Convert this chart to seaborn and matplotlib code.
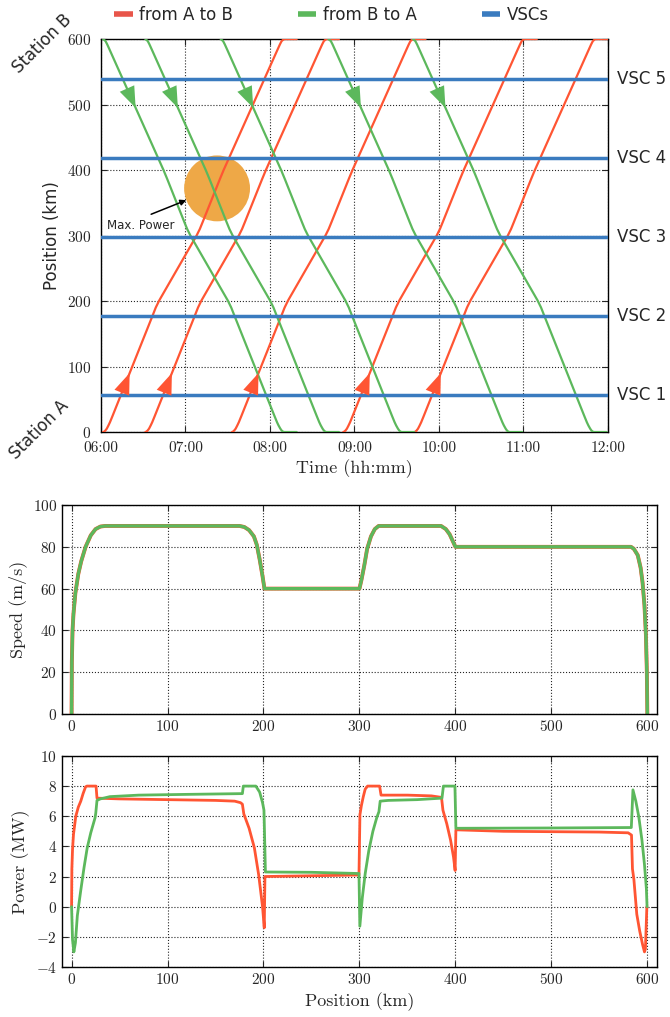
import numpy as np
import pandas as pd
import matplotlib
matplotlib.use("Agg")
import matplotlib.pyplot as plt
import matplotlib.transforms as mtransforms
from matplotlib.lines import Line2D
import seaborn as sns

RED = "#FF5533"
GREEN = "#5CB85C"
BLUE = "#3A7BBF"
ORANGE = "#EEA847"
SANS = "DejaVu Sans"

# trip profile: elapsed minutes at each position
trip_km_ab = [0, 0.5, 2, 5, 10, 15, 25, 178, 190, 201, 300, 310, 320, 386, 400, 583, 592, 597, 600]
trip_min_ab = [0, 0.7, 1.5, 2.6, 3.8, 4.9, 6.8, 35.2, 37.4, 39.9, 66.4, 68.7, 70.6, 82.9, 85.6, 123.7, 125.6, 126.8, 128.5]
trip_km_ba = [600, 597, 592, 583, 400, 386, 320, 310, 300, 201, 190, 178, 25, 15, 10, 5, 2, 0.5, 0]
trip_min_ba = [0, 1.7, 2.9, 4.8, 42.9, 45.6, 57.8, 59.7, 62.0, 88.5, 91.0, 93.2, 121.6, 123.5, 124.6, 125.9, 126.9, 127.8, 128.5]
dwell_min = 9

# departures, minutes after 06:00
dep_ab = [1.5, 31.5, 93, 172, 222.5]
dep_ba = [1.5, 31.5, 85, 161.5, 221.5]

vsc_km = [57, 177, 298, 419, 539]
vsc_names = ["VSC 1", "VSC 2", "VSC 3", "VSC 4", "VSC 5"]

max_power_hour = 7.374
max_power_km = 372

# speed profile (same for both directions)
speed_km = [0, 0.3, 1, 2, 4, 7, 10, 14.6, 20, 25, 30, 35, 175, 180, 185, 190, 193, 196, 199, 201,
            300, 302, 305, 308, 312, 316, 320, 385, 390, 394, 398, 400,
            583, 586, 590, 593, 595, 597, 598.5, 599.5, 600]
speed_ms = [0, 25, 40, 48, 58, 67, 73, 80, 85.5, 88.5, 89.7, 90, 90, 89.5, 88, 85, 81, 74, 66, 60,
            60, 64, 71, 79, 85, 88.5, 90, 90, 88.5, 86, 82, 80,
            80, 79, 76, 70, 63, 52, 38, 20, 0]

# power profiles
power_km_ab = [0, 0.3, 1, 2, 4.4, 7, 9.6, 12, 14.6, 16, 25.5, 26.5, 50, 100, 150, 170, 176, 178, 179.5,
               185, 190.5, 195, 199, 200.8, 201.5, 250, 299.5, 300.5, 302, 304, 306, 308.5, 321, 322.5,
               350, 375, 385.5, 387, 391, 395, 398, 399.7, 400.5, 450, 550, 580, 583.5, 584.5, 586,
               589, 592, 595, 597, 598, 599.5]
power_mw_ab = [0, 2.5, 3.8, 4.8, 6.0, 6.6, 7.0, 7.5, 7.95, 8.0, 8.0, 7.2, 7.15, 7.1, 7.05, 7.0, 6.9, 6.8, 6.15,
               5.2, 3.9, 2.1, 0.0, -1.4, 2.0, 2.05, 2.1, 6.1, 6.7, 7.3, 7.8, 8.0, 8.0, 7.4,
               7.4, 7.35, 7.25, 6.4, 5.5, 4.4, 3.3, 2.4, 5.1, 5.0, 4.95, 4.9, 4.75, 2.5, 1.8,
               -0.5, -1.6, -2.5, -3.0, -2.8, 0]
power_km_ba = [0, 1, 2.4, 4, 6, 9.4, 13, 16.3, 20, 24.5, 25.2, 26.5, 30, 40, 70, 120, 178, 179, 192,
               196, 199, 200.5, 202, 250, 299.5, 300.4, 303, 306, 309.7, 314, 318, 320.3, 321.6, 330,
               360, 386, 387.5, 399.5, 400.5, 500, 583.3, 585, 588, 591, 594.4, 597, 599, 599.7]
power_mw_ba = [0, -2.2, -3.0, -2.4, -0.6, 1.0, 2.6, 3.9, 4.9, 5.9, 6.2, 7.05, 7.15, 7.3, 7.4, 7.45, 7.5, 8.0, 8.0,
               7.6, 6.9, 6.4, 2.3, 2.28, 2.2, -1.3, 0.6, 2.2, 3.7, 5.0, 5.9, 6.3, 7.0, 7.05,
               7.1, 7.2, 8.0, 8.0, 5.2, 5.22, 5.25, 7.75, 7.0, 6.0, 4.4, 2.8, 1.2, 0]

sns.set_style("ticks")
plt.rcParams["font.family"] = "serif"
plt.rcParams["font.serif"] = ["cmr10", "DejaVu Serif"]
plt.rcParams["mathtext.fontset"] = "cm"
plt.rcParams["axes.unicode_minus"] = False
plt.rcParams["axes.formatter.use_mathtext"] = True
plt.rcParams["xtick.direction"] = "in"
plt.rcParams["ytick.direction"] = "in"
plt.rcParams["xtick.top"] = True
plt.rcParams["ytick.right"] = True
plt.rcParams["axes.edgecolor"] = "black"
plt.rcParams["axes.linewidth"] = 1.0


def build_trips(deps, km, mins):
    rows = []
    for i, d in enumerate(deps):
        t = [6 + (d + m) / 60 for m in mins] + [6 + (d + mins[-1] + dwell_min) / 60]
        k = list(km) + [km[-1]]
        rows.append(pd.DataFrame({"hour": t, "km": k, "trip": i}))
    return pd.concat(rows, ignore_index=True)


trips_ab = build_trips(dep_ab, trip_km_ab, trip_min_ab)
trips_ba = build_trips(dep_ba, trip_km_ba, trip_min_ba)

fig = plt.figure(figsize=(6.7, 10.17), dpi=100)
ax1 = fig.add_axes([0.1507, 0.5752, 0.7567, 0.3864])
ax2 = fig.add_axes([0.0925, 0.2979, 0.888, 0.2055])
ax3 = fig.add_axes([0.0925, 0.0492, 0.888, 0.2075])

for ax in (ax1, ax2, ax3):
    ax.grid(True, linestyle=":", color="0.15", linewidth=0.8)
    ax.set_axisbelow(True)
    ax.tick_params(labelsize=11, length=4, width=0.8)
ax1.tick_params(pad=7)

# --- time / position chart
ax1.scatter([max_power_hour], [max_power_km], s=2250, color=ORANGE, edgecolor="none", zorder=2)
sns.lineplot(data=trips_ab, x="hour", y="km", units="trip", estimator=None, sort=False,
             color=RED, lw=1.6, ax=ax1, zorder=3)
sns.lineplot(data=trips_ba, x="hour", y="km", units="trip", estimator=None, sort=False,
             color=GREEN, lw=1.6, ax=ax1, zorder=3)
for k in vsc_km:
    ax1.axhline(k, color=BLUE, lw=2.5, zorder=4)

head = dict(arrowstyle="-|>,head_length=0.8,head_width=0.3", lw=0, mutation_scale=19, shrinkA=0, shrinkB=0)
for d in dep_ab:
    tip = 6 + (d + np.interp(90, trip_km_ab, trip_min_ab)) / 60
    tail = 6 + (d + np.interp(60, trip_km_ab, trip_min_ab)) / 60
    ax1.annotate("", xy=(tip, 90), xytext=(tail, 60), arrowprops=dict(color=RED, **head), zorder=5)
rev_km = trip_km_ba[::-1]
rev_min = trip_min_ba[::-1]
for d in dep_ba:
    tip = 6 + (d + np.interp(495, rev_km, rev_min)) / 60
    tail = 6 + (d + np.interp(524, rev_km, rev_min)) / 60
    ax1.annotate("", xy=(tip, 495), xytext=(tail, 524), arrowprops=dict(color=GREEN, **head), zorder=5)

ax1.annotate("Max. Power", xy=(7.01, 354), xytext=(6.067, 316), family=SANS, fontsize=8.5,
             ha="left", va="center", zorder=6,
             arrowprops=dict(arrowstyle="-|>", color="black", lw=1.1, relpos=(0.5, 1.0), shrinkB=0))

trans = mtransforms.blended_transform_factory(ax1.transAxes, ax1.transData)
for k, name in zip(vsc_km, vsc_names):
    ax1.text(1.018, k, name, transform=trans, family=SANS, fontsize=12, ha="left", va="center")

ax1.set_xlim(6, 12)
ax1.set_ylim(0, 600)
hours = list(range(6, 13))
ax1.set_xticks(hours)
ax1.set_xticklabels([f"{h:02d}:00" for h in hours])
ax1.set_yticks(range(0, 601, 100))
ax1.set_xlabel("Time (hh:mm)", fontsize=13, labelpad=3)
ax1.set_ylabel("Position (km)", family=SANS, fontsize=12)

fig.text(0.063, 1 - 44 / 1017, "Station B", family=SANS, fontsize=12, rotation=45, ha="center", va="center")
fig.text(0.058, 1 - 430 / 1017, "Station A", family=SANS, fontsize=12, rotation=45, ha="center", va="center")

handles = [Line2D([], [], color="#E8554A", lw=4, solid_capstyle="butt"),
           Line2D([], [], color=GREEN, lw=4, solid_capstyle="butt"),
           Line2D([], [], color=BLUE, lw=4, solid_capstyle="butt")]
fig.legend(handles, ["from A to B", "from B to A", "VSCs"], loc="center", bbox_to_anchor=(0.495, 1 - 15 / 1017),
           ncol=3, frameon=False, prop={"family": SANS, "size": 12}, handlelength=1.1,
           handletextpad=0.4, columnspacing=3.9)

# --- speed chart
sns.lineplot(x=speed_km, y=speed_ms, sort=False, estimator=None, color=RED, lw=2.8, ax=ax2)
sns.lineplot(x=speed_km, y=speed_ms, sort=False, estimator=None, color=GREEN, lw=2.4, ax=ax2)
ax2.set_xlim(-10, 610)
ax2.set_ylim(0, 100)
ax2.set_xticks(range(0, 601, 100))
ax2.set_yticks(range(0, 101, 20))
ax2.set_ylabel("Speed (m/s)", fontsize=13)

# --- power chart
sns.lineplot(x=power_km_ab, y=power_mw_ab, sort=False, estimator=None, color=RED, lw=2.0, ax=ax3)
sns.lineplot(x=power_km_ba, y=power_mw_ba, sort=False, estimator=None, color=GREEN, lw=2.0, ax=ax3)
ax3.set_xlim(-10, 610)
ax3.set_ylim(-4, 10)
ax3.set_xticks(range(0, 601, 100))
ax3.set_yticks(range(-4, 11, 2))
ax3.set_ylabel("Power (MW)", fontsize=13)
ax3.set_xlabel("Position (km)", fontsize=13)

fig.savefig("out.png", dpi=100)
